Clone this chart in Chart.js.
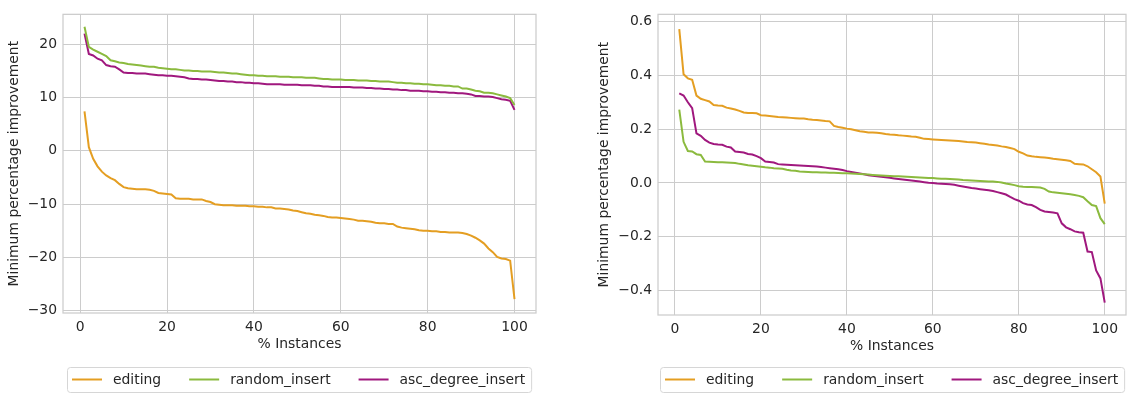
<!DOCTYPE html>
<html><head><meta charset="utf-8">
<script src="https://cdn.jsdelivr.net/npm/chart.js@4.4.0/dist/chart.umd.min.js"></script>
<style>
html,body{margin:0;padding:0;background:#fff;width:1127px;height:395px;overflow:hidden}
#w1{position:absolute;left:0;top:0;width:590px;height:395px}
#w2{position:absolute;left:590px;top:0;width:537px;height:395px}
</style></head><body>
<div id="w1"><canvas id="c1"></canvas></div>
<div id="w2"><canvas id="c2"></canvas></div>
<script>
const INSTANCES = [1,2,3,4,5,6,7,8,9,10,11,12,13,14,15,16,17,18,19,20,21,22,23,24,25,26,27,28,29,30,31,32,33,34,35,36,37,38,39,40,41,42,43,44,45,46,47,48,49,50,51,52,53,54,55,56,57,58,59,60,61,62,63,64,65,66,67,68,69,70,71,72,73,74,75,76,77,78,79,80,81,82,83,84,85,86,87,88,89,90,91,92,93,94,95,96,97,98,99,100];
const SERIES_NAMES = ['editing','random_insert','asc_degree_insert'];
const SERIES_COLORS = ['#E49E22','#8BBA3E','#A0187E'];

const LEFT_EDITING = [7.4,0.7,-1.5,-2.9,-3.9,-4.6,-5.1,-5.5,-6.2,-6.8,-7.0,-7.1,-7.2,-7.2,-7.2,-7.3,-7.5,-7.9,-8.0,-8.1,-8.2,-8.9,-9.0,-9.0,-9.0,-9.1,-9.1,-9.1,-9.4,-9.6,-10.0,-10.1,-10.2,-10.2,-10.2,-10.3,-10.3,-10.3,-10.4,-10.4,-10.5,-10.5,-10.6,-10.6,-10.8,-10.8,-10.9,-11.0,-11.2,-11.3,-11.5,-11.7,-11.8,-12.0,-12.1,-12.2,-12.4,-12.5,-12.5,-12.6,-12.7,-12.8,-12.9,-13.1,-13.1,-13.2,-13.3,-13.5,-13.6,-13.6,-13.7,-13.7,-14.2,-14.4,-14.5,-14.6,-14.7,-14.9,-15.0,-15.0,-15.1,-15.1,-15.2,-15.2,-15.3,-15.3,-15.3,-15.4,-15.6,-15.9,-16.3,-16.8,-17.4,-18.3,-19.0,-19.9,-20.2,-20.3,-20.6,-27.8];
const LEFT_RANDOM = [23.3,19.5,19.0,18.6,18.2,17.8,17.0,16.8,16.6,16.5,16.3,16.2,16.1,16.0,15.9,15.8,15.8,15.6,15.5,15.4,15.3,15.3,15.2,15.1,15.1,15.0,15.0,14.9,14.9,14.9,14.8,14.7,14.7,14.6,14.5,14.5,14.4,14.3,14.2,14.2,14.1,14.1,14.0,14.0,14.0,13.9,13.9,13.9,13.8,13.8,13.8,13.7,13.7,13.7,13.6,13.5,13.5,13.4,13.4,13.4,13.3,13.3,13.3,13.2,13.2,13.2,13.1,13.1,13.0,13.0,13.0,12.9,12.8,12.8,12.7,12.7,12.6,12.6,12.5,12.5,12.4,12.3,12.3,12.2,12.2,12.1,12.1,11.7,11.7,11.5,11.3,11.2,10.9,10.9,10.8,10.6,10.4,10.2,9.9,8.6];
const LEFT_ASC = [22.0,18.2,17.9,17.3,17.0,16.1,15.9,15.8,15.3,14.7,14.6,14.6,14.5,14.5,14.5,14.4,14.3,14.2,14.2,14.1,14.1,14.0,13.9,13.8,13.6,13.5,13.5,13.4,13.4,13.3,13.2,13.1,13.1,13.0,13.0,12.9,12.9,12.8,12.8,12.7,12.7,12.6,12.5,12.5,12.5,12.5,12.4,12.4,12.4,12.4,12.3,12.3,12.3,12.2,12.2,12.1,12.1,12.0,12.0,12.0,12.0,12.0,11.9,11.9,11.9,11.8,11.8,11.7,11.7,11.6,11.6,11.5,11.5,11.4,11.4,11.3,11.3,11.3,11.2,11.2,11.1,11.1,11.0,11.0,10.9,10.9,10.8,10.8,10.7,10.6,10.3,10.3,10.2,10.2,10.1,9.9,9.7,9.6,9.4,7.7];

const RIGHT_EDITING = [0.572,0.404,0.389,0.384,0.325,0.313,0.308,0.303,0.290,0.288,0.287,0.280,0.277,0.273,0.268,0.262,0.260,0.260,0.259,0.252,0.251,0.249,0.247,0.245,0.244,0.243,0.242,0.241,0.240,0.240,0.237,0.235,0.234,0.232,0.230,0.229,0.212,0.208,0.205,0.202,0.200,0.196,0.192,0.190,0.188,0.188,0.187,0.185,0.182,0.180,0.179,0.177,0.176,0.175,0.173,0.172,0.168,0.164,0.163,0.162,0.161,0.160,0.159,0.158,0.157,0.156,0.154,0.152,0.151,0.150,0.148,0.146,0.143,0.141,0.139,0.136,0.134,0.130,0.126,0.116,0.110,0.102,0.099,0.097,0.096,0.095,0.093,0.090,0.088,0.086,0.084,0.082,0.071,0.070,0.069,0.062,0.051,0.040,0.024,-0.077];
const RIGHT_RANDOM = [0.273,0.153,0.119,0.117,0.107,0.104,0.080,0.079,0.078,0.077,0.077,0.076,0.075,0.074,0.071,0.069,0.066,0.064,0.062,0.060,0.058,0.057,0.055,0.054,0.053,0.049,0.046,0.045,0.043,0.042,0.041,0.040,0.040,0.039,0.039,0.038,0.038,0.037,0.036,0.036,0.035,0.034,0.033,0.032,0.031,0.030,0.029,0.028,0.027,0.026,0.025,0.025,0.024,0.023,0.022,0.021,0.020,0.019,0.018,0.018,0.017,0.016,0.016,0.015,0.014,0.013,0.011,0.010,0.009,0.008,0.007,0.006,0.005,0.005,0.004,0.002,-0.002,-0.005,-0.008,-0.012,-0.014,-0.015,-0.015,-0.016,-0.017,-0.022,-0.032,-0.035,-0.036,-0.038,-0.040,-0.042,-0.045,-0.048,-0.053,-0.068,-0.082,-0.086,-0.131,-0.153];
const RIGHT_ASC = [0.333,0.325,0.300,0.278,0.184,0.175,0.160,0.150,0.145,0.143,0.142,0.135,0.132,0.117,0.115,0.113,0.108,0.106,0.100,0.092,0.080,0.078,0.076,0.070,0.069,0.068,0.067,0.066,0.065,0.064,0.063,0.062,0.061,0.059,0.057,0.055,0.053,0.051,0.048,0.044,0.041,0.038,0.035,0.032,0.029,0.027,0.025,0.023,0.021,0.019,0.017,0.015,0.013,0.011,0.009,0.007,0.005,0.003,0.001,0.000,-0.002,-0.003,-0.004,-0.005,-0.007,-0.010,-0.013,-0.016,-0.019,-0.021,-0.023,-0.025,-0.027,-0.030,-0.034,-0.038,-0.043,-0.052,-0.060,-0.066,-0.075,-0.080,-0.082,-0.090,-0.100,-0.106,-0.108,-0.110,-0.113,-0.150,-0.165,-0.172,-0.180,-0.183,-0.185,-0.255,-0.257,-0.325,-0.355,-0.445];

const X_TICKS = [0,20,40,60,80,100];
const LEFT_Y_TICKS = [-30,-20,-10,0,10,20];
const RIGHT_Y_TICKS = [-0.4,-0.2,0.0,0.2,0.4,0.6];
const X_TITLE = '% Instances';
const Y_TITLE = 'Minimum percentage improvement';

const FONT = '"DejaVu Sans", "Liberation Sans", sans-serif';
const FS = 13.9;
const TXT = '#262626';
const GRID = '#cccccc';

Chart.defaults.font.family = FONT;
Chart.defaults.font.size = FS;
Chart.defaults.color = TXT;

const framePlugin = {
  id: 'frame',
  afterDatasetsDraw(chart) {
    const {ctx, chartArea: a} = chart;
    ctx.save();
    ctx.strokeStyle = GRID;
    ctx.lineWidth = 1.25;
    ctx.strokeRect(a.left, a.top, a.right - a.left, a.bottom - a.top);
    ctx.restore();
  }
};

const boxLegend = {
  id: 'boxLegend',
  afterDraw(chart) {
    const ctx = chart.ctx, a = chart.chartArea;
    ctx.save();
    ctx.font = FS + 'px ' + FONT;
    const items = chart.data.datasets.map(d => ({text: d.label, color: d.borderColor, w: ctx.measureText(d.label).width}));
    const padL = 5, padR = 6, line = 30, gap = 11, sep = 28;
    let total = padL + padR;
    items.forEach((it, i) => { total += line + gap + it.w + (i ? sep : 0); });
    const cx = (a.left + a.right) / 2;
    const x0 = Math.round(cx - total / 2), top = 367, h = 25;
    ctx.beginPath();
    ctx.roundRect(x0 + 0.5, top + 0.5, total, h, 3);
    ctx.fillStyle = 'rgba(255,255,255,0.8)';
    ctx.fill();
    ctx.strokeStyle = '#d6d6d6';
    ctx.lineWidth = 1;
    ctx.stroke();
    let x = x0 + padL;
    const cy = top + h / 2;
    items.forEach((it, i) => {
      if (i) x += sep;
      ctx.beginPath();
      ctx.moveTo(x, cy); ctx.lineTo(x + line, cy);
      ctx.strokeStyle = it.color; ctx.lineWidth = 2; ctx.stroke();
      x += line + gap;
      ctx.fillStyle = TXT; ctx.textBaseline = 'middle'; ctx.textAlign = 'left';
      ctx.fillText(it.text, x, cy + 0.5);
      x += it.w;
    });
    ctx.restore();
  }
};

function fmtMinus(s) { return String(s).replace('-', '\u2212'); }

function makeChart(id, series, yTicks, yMin, yMax, decimals, pad) {
  const datasets = series.map((vals, k) => ({
    label: SERIES_NAMES[k],
    data: vals.map((v, i) => ({x: INSTANCES[i], y: v})),
    borderColor: SERIES_COLORS[k],
    backgroundColor: SERIES_COLORS[k],
    borderWidth: 2,
    pointRadius: 0,
    tension: 0,
    fill: false
  }));
  return new Chart(document.getElementById(id), {
    type: 'line',
    data: {datasets},
    plugins: [framePlugin, boxLegend],
    options: {
      responsive: true,
      maintainAspectRatio: false,
      animation: false,
      devicePixelRatio: 1,
      layout: {padding: pad},
      plugins: {legend: {display: false}, tooltip: {enabled: false}},
      scales: {
        x: {
          type: 'linear', min: -3.95, max: 104.95,
          afterBuildTicks: s => { s.ticks = X_TICKS.map(v => ({value: v})); },
          afterFit: s => { s.height = 45; },
          grid: {color: GRID, lineWidth: 1, drawTicks: false},
          border: {display: false},
          ticks: {padding: 6, color: TXT, font: {size: FS}, callback: v => fmtMinus(v)},
          title: {display: true, text: X_TITLE, color: TXT, font: {size: FS}, padding: {top: 0, bottom: 5}}
        },
        y: {
          type: 'linear', min: yMin, max: yMax,
          afterBuildTicks: s => { s.ticks = yTicks.map(v => ({value: v})); },
          afterFit: s => { s.width = pad.yw; },
          grid: {color: GRID, lineWidth: 1, drawTicks: false},
          border: {display: false},
          ticks: {padding: 6, color: TXT, font: {size: FS},
            callback: v => { if (Math.abs(v) < 1e-9) v = 0; return fmtMinus(decimals ? Number(v).toFixed(decimals) : String(v)); }},
          title: {display: true, text: Y_TITLE, color: TXT, font: {size: FS}, padding: {top: 6, bottom: 0}}
        }
      }
    }
  });
}

makeChart('c1', [LEFT_EDITING, LEFT_RANDOM, LEFT_ASC], LEFT_Y_TICKS, -30.42, 25.62, 0,
  {left: 0, right: 54, top: 7, bottom: 37, yw: 63});
makeChart('c2', [RIGHT_EDITING, RIGHT_RANDOM, RIGHT_ASC], RIGHT_Y_TICKS, -0.491, 0.627, 1,
  {left: 0, right: 1, top: 11, bottom: 35, yw: 68});
</script>
</body></html>
